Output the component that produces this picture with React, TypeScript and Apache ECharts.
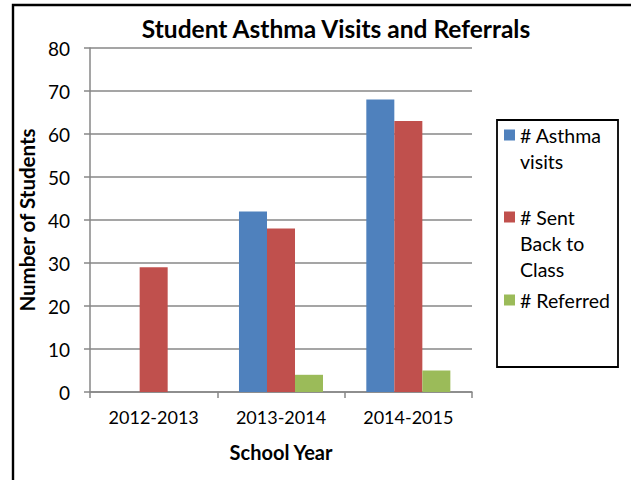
import React, { useEffect, useRef } from "react";
import * as echarts from "echarts";

const categories = ["2012-2013", "2013-2014", "2014-2015"];
const asthmaVisits = [null, 42, 68];
const sentBack = [29, 38, 63];
const referred = [null, 4, 5];
const yTicks = { min: 0, max: 80, interval: 10 };
const seriesNames = ["# Asthma visits", "# Sent Back to Class", "# Referred"];
const legendLabels = ["# Asthma\nvisits", "# Sent\nBack to\nClass", "# Referred"];
const colors = ["#4F81BD", "#C0504D", "#9BBB59"];

const FONT = "Lato";
const GRID = "#878787";

export default function App() {
  const ref = useRef<HTMLDivElement>(null);
  useEffect(() => {
    if (!ref.current) return;
    const chart = echarts.init(ref.current, undefined, { renderer: "svg" });
    const legendTops = [135, 217, 300];
    const legendGraphics: any[] = [
      {
        type: "rect",
        shape: { x: 497, y: 120, width: 121, height: 247 },
        style: { fill: "#fff", stroke: "#000", lineWidth: 1.8 },
      },
    ];
    legendLabels.forEach((lab, i) => {
      legendGraphics.push({
        type: "rect",
        shape: { x: 504, y: legendTops[i] - 5.5, width: 11, height: 11 },
        style: { fill: colors[i] },
      });
      legendGraphics.push({
        type: "text",
        x: 520,
        y: legendTops[i] - 13,
        style: {
          text: lab,
          fill: "#000",
          font: `19.5px ${FONT}`,
          lineHeight: 26,
          verticalAlign: "top",
          align: "left",
        },
      });
    });
    chart.setOption({
      animation: false,
      backgroundColor: "#fff",
      title: {
        text: "Student Asthma Visits and Referrals",
        left: 331,
        top: 11,
        textAlign: "center",
        textStyle: { fontFamily: FONT, fontWeight: "bold", fontSize: 24.5, color: "#000" },
      },
      legend: { show: false },
      grid: { left: 90, right: 159, top: 48, bottom: 88 },
      xAxis: {
        type: "category",
        data: categories,
        name: "School Year",
        nameLocation: "middle",
        nameGap: 50,
        nameTextStyle: { fontFamily: FONT, fontWeight: "bold", fontSize: 20, color: "#000" },
        axisLine: { lineStyle: { color: GRID, width: 1.5 } },
        axisTick: { show: true, length: 6, lineStyle: { color: GRID, width: 1.5 } },
        axisLabel: { fontFamily: FONT, fontSize: 18, color: "#000", margin: 16 },
      },
      yAxis: {
        type: "value",
        min: yTicks.min,
        max: yTicks.max,
        interval: yTicks.interval,
        name: "Number of Students",
        nameLocation: "middle",
        nameGap: 48,
        nameRotate: 90,
        nameTextStyle: { fontFamily: FONT, fontWeight: "bold", fontSize: 20.5, color: "#000" },
        axisLine: { show: true, lineStyle: { color: GRID, width: 1.5 } },
        axisTick: { show: true, length: 6, lineStyle: { color: GRID, width: 1.5 } },
        axisLabel: { fontFamily: FONT, fontSize: 19, color: "#000", margin: 20 },
        splitLine: { lineStyle: { color: GRID, width: 1.5 } },
      },
      series: [asthmaVisits, sentBack, referred].map((d, i) => ({
        type: "bar",
        name: seriesNames[i],
        data: d,
        barGap: "0%",
        barCategoryGap: "34%",
        itemStyle: { color: colors[i] },
      })),
      graphic: [
        {
          type: "rect",
          shape: { x: 13, y: 5, width: 700, height: 600 },
          style: { fill: "none", stroke: "#000", lineWidth: 2.4 },
          z: 100,
        },
        ...legendGraphics,
      ],
    });
    return () => chart.dispose();
  }, []);
  return (
    <div
      ref={ref}
      style={{ position: "fixed", left: 0, top: 0, width: 631, height: 480, background: "#fff" }}
    />
  );
}
